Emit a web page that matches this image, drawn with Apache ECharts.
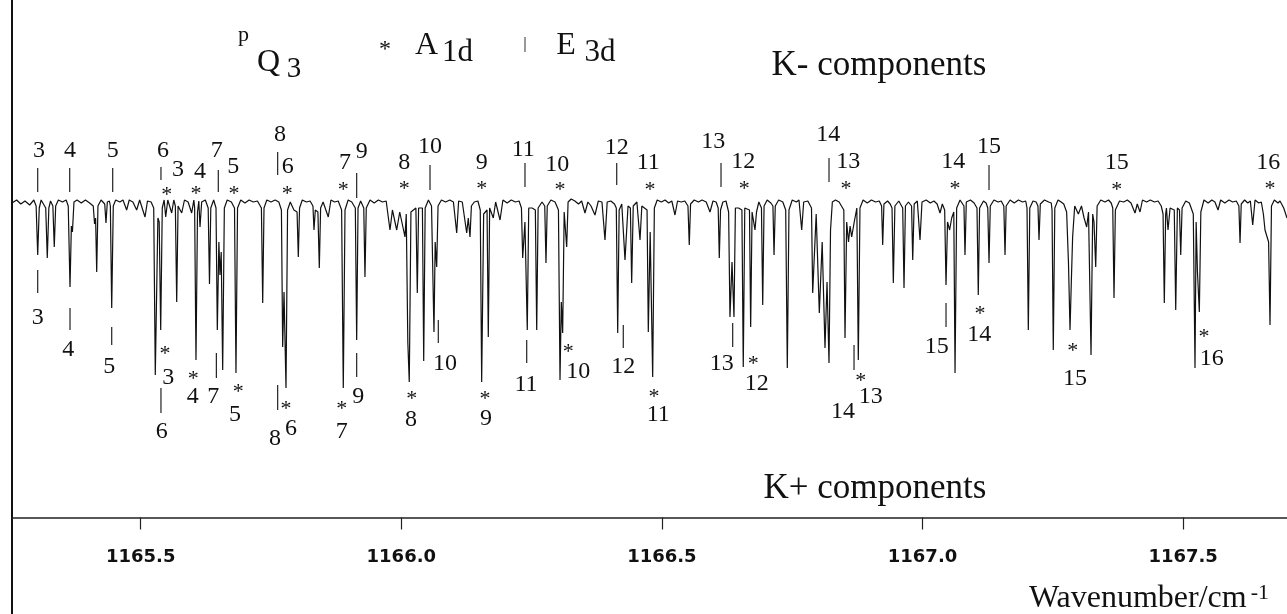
<!DOCTYPE html>
<html>
<head>
<meta charset="utf-8">
<title>pQ3 band, K- and K+ components</title>
<script src="https://cdn.jsdelivr.net/npm/echarts@6.0.0/dist/echarts.min.js"></script>
<style>
  html, body { margin: 0; padding: 0; background: #fff; }
  #main { width: 1287px; height: 614px; }
</style>
</head>
<body>
<div id="main"></div>
<script>
// spectrum trace: [wavenumber / cm-1, absorbance (drawn downwards)]
const spectrum = [
  [1165.2531, 0.005], [1165.262, -0.01], [1165.270, 0.01], [1165.278, -0.005], [1165.287, 0.015], [1165.295, -0.01],
  [1165.2994, 0.02], [1165.3024, 0.265], [1165.3054, 0.03], [1165.309, -0.01],
  [1165.3178, 0.03], [1165.3208, 0.28], [1165.3238, 0.03], [1165.327, -0.005],
  [1165.3315, 0.02], [1165.3342, 0.225], [1165.3369, 0.02], [1165.342, -0.01], [1165.350, 0.0], [1165.357, -0.01],
  [1165.361, 0.02], [1165.3644, 0.425], [1165.3670, 0.12], [1165.3690, 0.15], [1165.372, 0.0],
  [1165.378, -0.01], [1165.386, 0.005], [1165.394, -0.01], [1165.402, 0.005],
  [1165.409, 0.02], [1165.4115, 0.11], [1165.4135, 0.08], [1165.4156, 0.35], [1165.418, 0.02], [1165.424, -0.01],
  [1165.431, 0.01], [1165.4334, 0.105], [1165.436, 0.0], [1165.440, -0.005],
  [1165.4418, 0.02], [1165.4444, 0.53], [1165.4474, 0.02], [1165.452, -0.01], [1165.460, 0.0], [1165.466, -0.01],
  [1165.4731, 0.04], [1165.478, -0.01], [1165.485, 0.0], [1165.4923, 0.04], [1165.498, -0.01],
  [1165.5083, 0.075], [1165.513, -0.005], [1165.520, 0.0],
  [1165.5250, 0.03], [1165.5280, 0.865], [1165.5330, 0.08], [1165.5355, 0.1], [1165.5384, 0.64], [1165.5414, 0.03],
  [1165.545, -0.01], [1165.548, 0.075], [1165.552, -0.01], [1165.5595, 0.055], [1165.5635, -0.01],
  [1165.5665, 0.02], [1165.5691, 0.5], [1165.5717, 0.02], [1165.5787, 0.055], [1165.584, -0.01], [1165.591, 0.0],
  [1165.5978, 0.055], [1165.602, -0.01], [1165.6035, 0.03], [1165.6061, 0.79], [1165.6090, 0.05],
  [1165.6115, -0.005], [1165.6138, 0.125], [1165.617, 0.0], [1165.624, -0.01],
  [1165.6295, 0.03], [1165.6320, 0.41], [1165.6345, 0.03], [1165.640, -0.01],
  [1165.6445, 0.03], [1165.6470, 0.64], [1165.6500, 0.2], [1165.6521, 0.365], [1165.6545, 0.25], [1165.6573, 0.84], [1165.6605, 0.03],
  [1165.666, -0.01], [1165.674, 0.0], [1165.680, 0.03], [1165.6828, 0.855], [1165.6858, 0.03],
  [1165.692, -0.01], [1165.700, 0.005], [1165.708, -0.01], [1165.716, 0.0], [1165.724, -0.005],
  [1165.7316, 0.03], [1165.7341, 0.505], [1165.7366, 0.03], [1165.742, -0.01], [1165.750, 0.0], [1165.758, -0.01], [1165.765, 0.0],
  [1165.7700, 0.04], [1165.7724, 0.725], [1165.7750, 0.45], [1165.7788, 0.93], [1165.7818, 0.04], [1165.787, 0.0], [1165.794, 0.04],
  [1165.8000, 0.05], [1165.8024, 0.275], [1165.8048, 0.03], [1165.810, -0.01], [1165.818, 0.0], [1165.825, -0.005],
  [1165.8305, 0.02], [1165.8325, 0.14], [1165.8350, 0.04], [1165.8400, 0.05], [1165.8427, 0.33], [1165.8452, 0.03], [1165.850, 0.0],
  [1165.8599, 0.075], [1165.865, -0.01], [1165.872, 0.0], [1165.879, -0.005],
  [1165.8855, 0.04], [1165.8887, 0.93], [1165.8920, 0.04], [1165.898, -0.01], [1165.905, 0.0],
  [1165.9118, 0.03], [1165.9144, 0.69], [1165.9170, 0.03], [1165.922, -0.005],
  [1165.9280, 0.03], [1165.9303, 0.375], [1165.9328, 0.03],
  [1165.940, -0.01], [1165.948, 0.005], [1165.956, -0.01], [1165.964, 0.0], [1165.971, -0.005],
  [1165.9783, 0.14], [1165.983, 0.04], [1165.9912, 0.14], [1165.997, 0.05], [1166.0071, 0.175],
  [1166.0095, 0.06], [1166.0125, 0.7], [1166.0153, 0.9], [1166.0185, 0.05],
  [1166.0280, 0.03], [1166.0307, 0.455], [1166.0332, 0.03],
  [1166.0405, 0.03], [1166.0430, 0.795], [1166.0458, 0.03], [1166.052, -0.01], [1166.058, 0.02],
  [1166.0605, 0.03], [1166.0627, 0.65], [1166.0650, 0.2], [1166.0679, 0.325], [1166.0705, 0.02],
  [1166.077, -0.01], [1166.085, 0.0], [1166.093, -0.01], [1166.100, 0.0],
  [1166.1063, 0.155], [1166.110, -0.005], [1166.117, 0.0],
  [1166.1255, 0.155], [1166.1285, 0.08], [1166.1318, 0.175], [1166.1345, 0.02], [1166.140, 0.0], [1166.147, -0.005],
  [1166.1515, 0.04], [1166.1542, 0.9], [1166.1580, 0.06], [1166.1605, 0.05],
  [1166.1645, 0.04], [1166.1669, 0.675], [1166.1695, 0.03],
  [1166.1765, 0.08], [1166.181, 0.0], [1166.1894, 0.09], [1166.195, -0.01],
  [1166.203, 0.005], [1166.211, -0.01], [1166.219, 0.0], [1166.226, -0.005],
  [1166.2305, 0.03], [1166.2329, 0.28], [1166.2372, 0.1], [1166.2417, 0.64], [1166.2445, 0.03],
  [1166.2510, 0.03], [1166.2572, 0.04], [1166.2598, 0.64], [1166.2625, 0.03], [1166.2700, 0.0],
  [1166.2752, 0.02], [1166.2776, 0.305], [1166.2800, 0.02], [1166.287, -0.01], [1166.295, 0.0],
  [1166.3015, 0.04], [1166.3045, 0.89], [1166.3070, 0.5], [1166.3096, 0.655], [1166.3125, 0.05],
  [1166.3150, 0.05], [1166.3173, 0.225], [1166.3200, 0.0],
  [1166.326, -0.015], [1166.333, -0.005], [1166.340, 0.01], [1166.346, -0.005],
  [1166.3524, 0.055], [1166.358, 0.0], [1166.364, 0.02], [1166.3716, 0.065], [1166.378, -0.005], [1166.385, 0.0],
  [1166.3908, 0.19], [1166.395, 0.0], [1166.402, -0.005], [1166.409, 0.01],
  [1166.4125, 0.03], [1166.4152, 0.655], [1166.4180, 0.04], [1166.4230, 0.01],
  [1166.4292, 0.29], [1166.4350, 0.02], [1166.4395, 0.03], [1166.4420, 0.405], [1166.4450, 0.02], [1166.452, 0.0],
  [1166.4580, 0.19], [1166.4615, 0.02],
  [1166.4715, 0.04], [1166.4739, 0.65], [1166.4775, 0.15], [1166.4823, 0.875], [1166.4855, 0.03],
  [1166.491, -0.01], [1166.499, 0.0], [1166.506, -0.01], [1166.513, 0.005], [1166.519, -0.005],
  [1166.5251, 0.065], [1166.530, -0.005], [1166.537, 0.0], [1166.544, -0.005],
  [1166.5500, 0.02], [1166.5525, 0.215], [1166.5550, 0.01],
  [1166.562, -0.01], [1166.570, 0.0], [1166.577, -0.01], [1166.585, 0.0],
  [1166.5923, 0.05], [1166.598, -0.005], [1166.604, 0.0],
  [1166.6080, 0.03], [1166.6101, 0.28], [1166.6125, 0.04], [1166.6170, 0.0], [1166.6230, -0.005],
  [1166.6280, 0.05], [1166.6306, 0.575], [1166.6345, 0.3], [1166.6383, 0.575], [1166.6410, 0.03], [1166.6470, 0.03],
  [1166.6535, 0.04], [1166.6561, 0.825], [1166.6590, 0.03],
  [1166.6680, 0.04], [1166.6703, 0.625], [1166.6730, 0.05], [1166.6760, 0.05], [1166.6786, 0.14], [1166.6815, 0.05], [1166.6860, 0.0],
  [1166.6910, 0.03], [1166.6934, 0.515], [1166.6960, 0.02], [1166.702, -0.01], [1166.709, 0.005],
  [1166.7130, 0.02], [1166.7151, 0.265], [1166.7175, 0.02], [1166.724, -0.01], [1166.732, 0.0],
  [1166.7375, 0.04], [1166.7406, 0.83], [1166.7438, 0.04], [1166.750, -0.01], [1166.758, 0.0], [1166.763, -0.01],
  [1166.7682, 0.14], [1166.7720, 0.0], [1166.7800, -0.005],
  [1166.7870, 0.03], [1166.7893, 0.455], [1166.7960, 0.06], [1166.8020, 0.555], [1166.8075, 0.2],
  [1166.8129, 0.73], [1166.8168, 0.4], [1166.8206, 0.805], [1166.8235, 0.14], [1166.8270, 0.0],
  [1166.8330, -0.01], [1166.8400, 0.0],
  [1166.8490, 0.04], [1166.8513, 0.68], [1166.8545, 0.1], [1166.8580, 0.2], [1166.8610, 0.12], [1166.8641, 0.175],
  [1166.8690, 0.1], [1166.8740, 0.03], [1166.8768, 0.79], [1166.8800, 0.03],
  [1166.886, -0.01], [1166.894, 0.005], [1166.902, -0.01], [1166.910, 0.0], [1166.917, -0.005],
  [1166.9215, 0.02], [1166.9236, 0.215], [1166.9260, 0.01], [1166.933, -0.005], [1166.938, 0.01],
  [1166.9415, 0.03], [1166.9440, 0.405], [1166.9470, 0.02], [1166.9545, -0.005],
  [1166.9620, 0.03], [1166.9645, 0.43], [1166.9672, 0.02], [1166.9730, 0.0],
  [1166.9790, 0.02], [1166.9812, 0.29], [1166.9840, 0.01], [1166.9900, -0.005],
  [1166.9952, 0.19], [1166.9990, 0.0], [1167.007, -0.01], [1167.015, 0.005], [1167.022, -0.005], [1167.028, 0.01],
  [1167.0336, 0.055], [1167.038, 0.01],
  [1167.0425, 0.04], [1167.0451, 0.415], [1167.0480, 0.1], [1167.0520, 0.14], [1167.0560, 0.08], [1167.0600, 0.05],
  [1167.0624, 0.855], [1167.0655, 0.03], [1167.072, -0.01],
  [1167.0795, 0.02], [1167.0815, 0.265], [1167.0840, 0.0], [1167.092, -0.01], [1167.099, 0.005],
  [1167.1045, 0.03], [1167.1070, 0.465], [1167.1095, 0.03], [1167.117, -0.005], [1167.122, 0.005],
  [1167.1252, 0.03], [1167.1276, 0.305], [1167.1300, 0.02], [1167.137, -0.01], [1167.145, 0.0], [1167.151, -0.005],
  [1167.1560, 0.02], [1167.1583, 0.265], [1167.1605, 0.02],
  [1167.168, -0.01], [1167.176, 0.005], [1167.184, -0.01], [1167.192, 0.0], [1167.198, -0.005],
  [1167.2005, 0.03], [1167.2030, 0.64], [1167.2058, 0.03], [1167.212, -0.005], [1167.218, 0.0],
  [1167.2215, 0.02], [1167.2235, 0.19], [1167.2260, 0.01], [1167.234, -0.01], [1167.242, 0.0], [1167.2470, 0.005],
  [1167.2485, 0.04], [1167.2509, 0.74], [1167.2538, 0.03], [1167.260, -0.01], [1167.266, 0.0], [1167.2710, 0.01],
  [1167.2765, 0.05], [1167.2800, 0.3], [1167.2830, 0.64], [1167.2855, 0.4], [1167.2880, 0.175], [1167.2920, 0.02],
  [1167.2990, 0.06], [1167.3050, 0.02], [1167.3100, 0.08], [1167.3150, 0.125], [1167.3185, 0.05],
  [1167.3210, 0.06], [1167.3233, 0.765], [1167.3265, 0.06], [1167.3290, 0.1], [1167.3323, 0.325], [1167.3350, 0.02],
  [1167.342, -0.01], [1167.350, 0.0], [1167.357, -0.01], [1167.362, 0.005],
  [1167.3650, 0.03], [1167.3674, 0.48], [1167.3700, 0.04], [1167.378, -0.005], [1167.386, 0.0], [1167.393, -0.01], [1167.400, 0.005],
  [1167.4077, 0.055], [1167.4120, 0.01], [1167.4173, 0.05], [1167.422, -0.01],
  [1167.430, 0.0], [1167.437, -0.01], [1167.445, 0.0], [1167.452, -0.005], [1167.458, 0.02],
  [1167.4615, 0.06], [1167.4639, 0.505], [1167.4665, 0.06], [1167.4680, 0.03], [1167.4710, 0.14], [1167.4750, 0.03],
  [1167.4830, 0.04], [1167.4858, 0.54], [1167.4890, 0.03], [1167.4930, 0.04], [1167.4954, 0.265], [1167.4980, 0.03],
  [1167.505, -0.005], [1167.512, 0.005],
  [1167.5195, 0.06], [1167.5228, 0.83], [1167.5250, 0.1], [1167.5275, 0.35], [1167.5311, 0.55], [1167.5340, 0.05],
  [1167.540, -0.01], [1167.548, 0.005], [1167.555, -0.01], [1167.561, 0.0],
  [1167.5670, 0.04], [1167.572, -0.01], [1167.580, 0.005], [1167.588, -0.01], [1167.595, 0.0], [1167.602, -0.005],
  [1167.6070, 0.02], [1167.6092, 0.205], [1167.6115, 0.01], [1167.618, -0.01], [1167.624, 0.005], [1167.629, -0.005],
  [1167.6335, 0.115], [1167.638, -0.01], [1167.645, 0.005], [1167.650, 0.0],
  [1167.6540, 0.06], [1167.6571, 0.14], [1167.6600, 0.13], [1167.6640, 0.2], [1167.6667, 0.615], [1167.6695, 0.02],
  [1167.675, -0.01], [1167.682, 0.005], [1167.6859, -0.005], [1167.6930, 0.03], [1167.6993, 0.08]
];

// E3d assignments (marked "|"): J, line wavenumber, tick from, tick to, label wavenumber, label height
const upperE3d = [
  [3, 1165.3024, -0.17, -0.05, 1165.3049, -0.257],
  [4, 1165.3638, -0.17, -0.05, 1165.3644, -0.257],
  [5, 1165.4463, -0.17, -0.05, 1165.4463, -0.257],
  [6, 1165.5389, -0.175, -0.11, 1165.5428, -0.257],
  [7, 1165.6489, -0.16, -0.05, 1165.6458, -0.257],
  [8, 1165.7628, -0.25, -0.135, 1165.7673, -0.335],
  [9, 1165.9144, -0.145, -0.02, 1165.9240, -0.252],
  [10, 1166.0551, -0.185, -0.06, 1166.0551, -0.277],
  [11, 1166.2373, -0.195, -0.075, 1166.2341, -0.26],
  [12, 1166.4133, -0.195, -0.085, 1166.4133, -0.269],
  [13, 1166.6134, -0.195, -0.075, 1166.5986, -0.302],
  [14, 1166.8206, -0.22, -0.10, 1166.8193, -0.335],
  [15, 1167.1276, -0.185, -0.06, 1167.1276, -0.277]
];
const lowerE3d = [
  [3, 1165.3024, 0.34, 0.455, 1165.3024, 0.58],
  [4, 1165.3644, 0.53, 0.64, 1165.3611, 0.74],
  [5, 1165.4444, 0.625, 0.715, 1165.4398, 0.824],
  [6, 1165.5389, 0.93, 1.055, 1165.5403, 1.149],
  [7, 1165.6452, 0.755, 0.88, 1165.6393, 0.974],
  [8, 1165.7628, 0.915, 1.04, 1165.7577, 1.182],
  [9, 1165.9144, 0.755, 0.875, 1165.9175, 0.974],
  [10, 1166.0710, 0.59, 0.705, 1166.0838, 0.807],
  [11, 1166.2406, 0.69, 0.805, 1166.2393, 0.915],
  [12, 1166.4259, 0.615, 0.73, 1166.4259, 0.824],
  [13, 1166.6358, 0.605, 0.725, 1166.6147, 0.807],
  [14, 1166.8686, 0.715, 0.84, 1166.8474, 1.049],
  [15, 1167.0451, 0.505, 0.625, 1167.0272, 0.724]
];
// A1d assignments (marked "*"): J, star wavenumber, star height, label wavenumber, label height
const upperA1d = [
  [3, 1165.5499, -0.052, 1165.5716, -0.16],
  [4, 1165.6061, -0.06, 1165.6138, -0.152],
  [5, 1165.6790, -0.06, 1165.6777, -0.177],
  [6, 1165.7813, -0.06, 1165.7820, -0.174],
  [7, 1165.8887, -0.077, 1165.8920, -0.194],
  [8, 1166.0057, -0.085, 1166.0057, -0.194],
  [9, 1166.1542, -0.085, 1166.1542, -0.194],
  [10, 1166.3045, -0.077, 1166.2993, -0.185],
  [11, 1166.4771, -0.077, 1166.4739, -0.194],
  [12, 1166.6581, -0.085, 1166.6561, -0.202],
  [13, 1166.8532, -0.085, 1166.8576, -0.202],
  [14, 1167.0624, -0.085, 1167.0591, -0.202],
  [15, 1167.3726, -0.077, 1167.3726, -0.194],
  [16, 1167.6667, -0.085, 1167.6635, -0.194]
];
const lowerA1d = [
  [3, 1165.5466, 0.74, 1165.5530, 0.88],
  [4, 1165.6009, 0.865, 1165.5998, 0.974],
  [5, 1165.6873, 0.932, 1165.6809, 1.065],
  [6, 1165.7788, 1.015, 1165.7884, 1.132],
  [7, 1165.8856, 1.015, 1165.8856, 1.149],
  [8, 1166.0199, 0.965, 1166.0186, 1.09],
  [9, 1166.1606, 0.965, 1166.1625, 1.082],
  [10, 1166.3204, 0.732, 1166.3396, 0.849],
  [11, 1166.4848, 0.957, 1166.4931, 1.065],
  [12, 1166.6753, 0.79, 1166.6819, 0.907],
  [13, 1166.8814, 0.874, 1166.9006, 0.974],
  [14, 1167.1103, 0.54, 1167.1090, 0.665],
  [15, 1167.2881, 0.724, 1167.2926, 0.882],
  [16, 1167.5401, 0.657, 1167.5548, 0.782]
];
const tickValues = [1165.5, 1166.0, 1166.5, 1167.0, 1167.5];

const serif = '"Liberation Serif", "Times New Roman", serif';
const ink = '#111';

let chartDom = document.getElementById('main');
let myChart = echarts.init(chartDom);

function drawTick(params, api) {
  let p1 = api.coord([api.value(0), api.value(1)]);
  let p2 = api.coord([api.value(0), api.value(2)]);
  return {
    type: 'line',
    shape: { x1: p1[0], y1: p1[1], x2: p2[0], y2: p2[1] },
    style: { stroke: '#222', lineWidth: 1.2 }
  };
}

function drawText(size, dy, fixed) {
  return function (params, api) {
    let p = api.coord([api.value(0), api.value(1)]);
    let txt = fixed || String(api.value(2));
    return {
      type: 'text',
      x: p[0],
      y: p[1] + dy,
      style: {
        text: txt,
        font: size + 'px ' + serif,
        fill: ink,
        align: 'center', verticalAlign: 'middle',
        textAlign: 'center', textVerticalAlign: 'middle'
      }
    };
  };
}

function gText(text, x, y, size) {
  return {
    type: 'text', x: x, y: y, silent: true,
    style: {
      text: text, font: size + 'px ' + serif, fill: ink,
      align: 'center', verticalAlign: 'middle',
      textAlign: 'center', textVerticalAlign: 'middle'
    }
  };
}

let allE3d = upperE3d.concat(lowerE3d);
let allA1d = upperA1d.concat(lowerA1d);

let option = {
  animation: false,
  backgroundColor: '#fff',
  grid: { left: 12, right: 0, top: 0, bottom: 96.5, outerBoundsMode: 'none' },
  xAxis: {
    type: 'value',
    min: 1165.2531,
    max: 1167.6993,
    axisLine: { onZero: false, lineStyle: { color: '#222', width: 1.5 } },
    axisTick: { show: true, length: 12, customValues: tickValues, lineStyle: { color: '#222', width: 1.2 } },
    axisLabel: {
      customValues: tickValues,
      formatter: (v) => v.toFixed(1),
      margin: 31,
      fontFamily: '"DejaVu Sans", sans-serif',
      fontWeight: 'bold',
      fontSize: 18,
      color: ink
    },
    splitLine: { show: false },
    name: 'Wavenumber/cm{sup|-1}',
    nameLocation: 'end',
    nameGap: -18,
    nameTextStyle: {
      fontFamily: serif,
      fontSize: 32,
      color: ink,
      align: 'right',
      verticalAlign: 'top',
      padding: [65, 0, 0, 0],
      rich: {
        sup: { fontFamily: serif, fontSize: 22, color: ink, verticalAlign: 'top', padding: [0, 0, 0, 4] }
      }
    }
  },
  yAxis: {
    type: 'value',
    inverse: true,
    min: -1.01,
    max: 1.5775,
    axisLine: { show: true, onZero: false, lineStyle: { color: ink, width: 2 } },
    axisTick: { show: false },
    axisLabel: { show: false },
    splitLine: { show: false }
  },
  graphic: [
    { type: 'line', silent: true, shape: { x1: 12, y1: 517, x2: 12, y2: 614 }, style: { stroke: ink, lineWidth: 2 } },
    gText('p', 243.5, 35, 22),
    gText('Q', 268.5, 62.5, 32),
    gText('3', 294, 69, 29),
    gText('*', 385, 50, 24),
    gText('A', 426.5, 45.5, 32),
    gText('1d', 457.5, 53, 31),
    { type: 'line', silent: true, shape: { x1: 525, y1: 37, x2: 525, y2: 52 }, style: { stroke: '#333', lineWidth: 1 } },
    gText('E', 566, 45.5, 32),
    gText('3d', 600, 53, 31),
    gText('K- components', 879, 66, 35),
    gText('K+ components', 875, 489, 35)
  ],
  series: [
    {
      name: 'spectrum',
      type: 'line',
      data: spectrum,
      symbol: 'none',
      sampling: 'none',
      lineStyle: { color: ink, width: 1.2 },
      z: 3
    },
    {
      name: 'E3d ticks',
      type: 'custom',
      renderItem: drawTick,
      encode: { x: 0, y: [1, 2] },
      data: allE3d.map((r) => [r[1], r[2], r[3]]),
      silent: true,
      z: 4
    },
    {
      name: 'E3d labels',
      type: 'custom',
      renderItem: drawText(24, 0),
      encode: { x: 0, y: 1 },
      data: allE3d.map((r) => [r[4], r[5], r[0]]),
      silent: true,
      z: 4
    },
    {
      name: 'A1d stars',
      type: 'custom',
      renderItem: drawText(22, 4, '*'),
      encode: { x: 0, y: 1 },
      data: allA1d.map((r) => [r[1], r[2], r[0]]),
      silent: true,
      z: 4
    },
    {
      name: 'A1d labels',
      type: 'custom',
      renderItem: drawText(24, 0),
      encode: { x: 0, y: 1 },
      data: allA1d.map((r) => [r[3], r[4], r[0]]),
      silent: true,
      z: 4
    }
  ]
};

option && myChart.setOption(option);
</script>
</body>
</html>
